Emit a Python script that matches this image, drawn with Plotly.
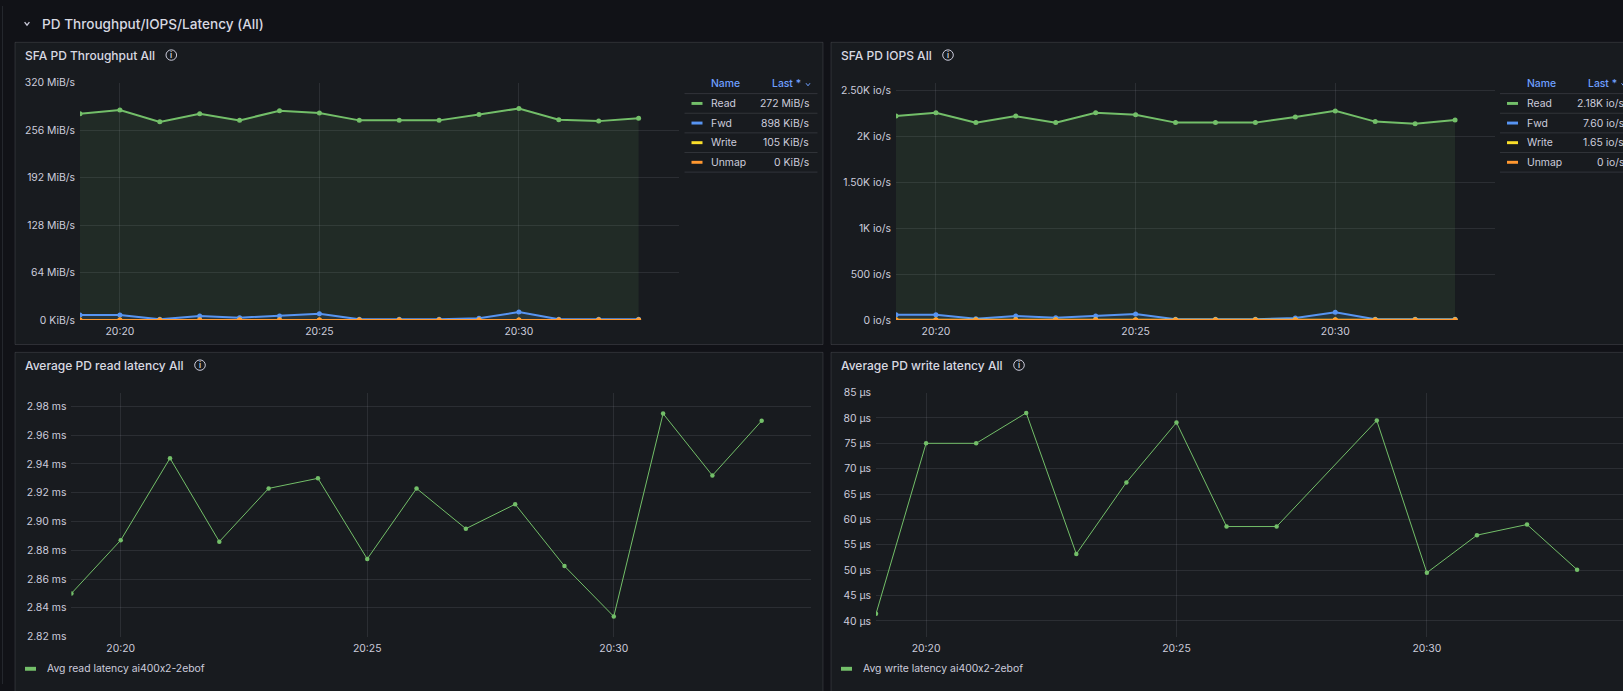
import pandas as pd
import plotly.graph_objects as go

W, H = 1623, 691
day = "2024-06-10"

times = ["20:19", "20:20", "20:21", "20:22", "20:23", "20:24", "20:25", "20:26",
         "20:27", "20:28", "20:29", "20:30", "20:31", "20:32", "20:33"]
tick_times = ["20:20", "20:25", "20:30"]

series_names = ["Read", "Fwd", "Write", "Unmap"]
series_colors = ["#73bf69", "#5794f2", "#fade2a", "#ff9830"]

# SFA PD Throughput All (MiB/s)
tp_read = [278, 283, 267, 278, 269, 282, 279, 269, 269, 269, 277, 285, 270, 268, 272]
tp_fwd = [6.6, 6.6, 0.9, 5.3, 3.1, 5.3, 8.5, 0.9, 0.9, 0.9, 2.2, 10.6, 0.9, 0.9, 0.88]
tp_write = [0.10, 0.10, 0.10, 0.10, 0.10, 0.10, 0.10, 0.10, 0.10, 0.10, 0.10, 0.10, 0.10, 0.10, 0.10]
tp_unmap = [0, 0, 0, 0, 0, 0, 0, 0, 0, 0, 0, 0, 0, 0, 0]
tp_last = ["272 MiB/s", "898 KiB/s", "105 KiB/s", "0 KiB/s"]
tp_yticks = [0, 64, 128, 192, 256, 320]
tp_yticktext = ["0 KiB/s", "64 MiB/s", "128 MiB/s", "192 MiB/s", "256 MiB/s", "320 MiB/s"]

# SFA PD IOPS All (io/s)
io_read = [2222, 2258, 2151, 2222, 2151, 2258, 2236, 2151, 2151, 2151, 2212, 2279, 2162, 2140, 2180]
io_fwd = [58, 58, 14, 43, 25, 43, 64, 7.6, 7.6, 7.6, 21, 85, 7.6, 7.6, 7.6]
io_write = [1.65, 1.65, 1.65, 1.65, 1.65, 1.65, 1.65, 1.65, 1.65, 1.65, 1.65, 1.65, 1.65, 1.65, 1.65]
io_unmap = [0, 0, 0, 0, 0, 0, 0, 0, 0, 0, 0, 0, 0, 0, 0]
io_last = ["2.18K io/s", "7.60 io/s", "1.65 io/s", "0 io/s"]
io_yticks = [0, 500, 1000, 1500, 2000, 2500]
io_yticktext = ["0 io/s", "500 io/s", "1K io/s", "1.50K io/s", "2K io/s", "2.50K io/s"]

# Average PD read latency All (ms)
rd_lat = [2.850, 2.887, 2.944, 2.886, 2.923, 2.930, 2.874, 2.923, 2.895, 2.912,
          2.869, 2.834, 2.975, 2.932, 2.970]
rd_name = "Avg read latency ai400x2-2ebof"

# Average PD write latency All (µs)
wr_lat = [41.4, 75.0, 75.0, 81.0, 53.2, 67.3, 79.1, 58.6, 58.6, None,
          79.5, 49.5, 56.9, 59.0, 50.1]
wr_name = "Avg write latency ai400x2-2ebof"

ts = pd.to_datetime([f"{day} {t}" for t in times])
ticks = pd.to_datetime([f"{day} {t}" for t in tick_times])

FONT = "Inter, Roboto, sans-serif"
TXT = "#ccccdc"
GRID = "rgba(204,204,220,0.11)"
BORDER = "rgba(204,204,220,0.14)"
PANEL = "#181b1f"
SMALL = 10.4


def X(p):
    return p / W


def Y(p):
    return 1 - p / H


def no_calt(text):
    # Inter turns "0x2" into "0×2"; split the x into its own run
    return text.replace("0x2", "0<span style='font-family:Roboto'>x</span>2")


fig = go.Figure()
shapes = []
annotations = []


def setup_axes(n, left, right, top, bottom, t_end, yrange, ykw):
    sfx = "" if n == 1 else str(n)
    fig.update_layout({
        f"xaxis{sfx}": dict(
            domain=[X(left), min(X(right), 1)], anchor=f"y{sfx}", type="date",
            range=[ts[0], t_end], tickvals=list(ticks), tickformat="%H:%M",
            showgrid=True, gridcolor=GRID, zeroline=False, showline=False,
            ticks="", ticklabelstandoff=4,
            tickfont=dict(family=FONT, size=SMALL, color=TXT), fixedrange=True),
        f"yaxis{sfx}": dict(
            domain=[Y(bottom), Y(top)], anchor=f"x{sfx}", range=yrange,
            showgrid=True, gridcolor=GRID, zeroline=False, showline=False,
            ticks="", ticklabelstandoff=4,
            tickfont=dict(family=FONT, size=SMALL, color=TXT), **ykw),
    })
    return sfx


def add_line(sfx, y, color, width, size, fill):
    r, g, b = int(color[1:3], 16), int(color[3:5], 16), int(color[5:7], 16)
    fig.add_trace(go.Scatter(
        x=ts, y=y, xaxis=f"x{sfx}", yaxis=f"y{sfx}", mode="lines+markers",
        line=dict(color=color, width=width), marker=dict(color=color, size=size),
        fill="tozeroy" if fill else None, fillcolor=f"rgba({r},{g},{b},0.1)",
        connectgaps=True, showlegend=False, hoverinfo="x+y"))


def panel(x0, y0, x1, y1, title, icon_x):
    shapes.append(dict(type="rect", xref="paper", yref="paper", layer="below",
                       x0=X(x0), x1=X(x1), y0=Y(y1), y1=Y(y0),
                       fillcolor=PANEL, line=dict(color=BORDER, width=1)))
    annotations.append(dict(text=title, x=X(x0 + 8), y=Y(y0 + 13), xref="paper", yref="paper",
                            xanchor="left", yanchor="middle", showarrow=False,
                            font=dict(family=FONT, size=12, color="#d8d9e2", weight=500)))
    cy = y0 + 13
    shapes.append(dict(type="circle", xref="paper", yref="paper",
                       x0=X(icon_x - 5.3), x1=X(icon_x + 5.3), y0=Y(cy + 5.3), y1=Y(cy - 5.3),
                       line=dict(color=TXT, width=1)))
    annotations.append(dict(text="i", x=X(icon_x), y=Y(cy + 0.3), xref="paper", yref="paper",
                            xanchor="center", yanchor="middle", showarrow=False,
                            font=dict(family=FONT, size=8, color=TXT, weight=600)))


def chevron(cx, cy, w, h, color, width=1.3):
    path = f"M {X(cx - w)},{Y(cy - h)} L {X(cx)},{Y(cy + h)} L {X(cx + w)},{Y(cy - h)}"
    shapes.append(dict(type="path", xref="paper", yref="paper", path=path,
                       line=dict(color=color, width=width)))


def legend_table(left, last_vals):
    rows_y = [99.3, 119.3, 139.3, 159.3]
    annotations.append(dict(text="Name", x=X(left + 24.5), y=Y(79.3), xref="paper", yref="paper",
                            xanchor="left", yanchor="middle", showarrow=False,
                            font=dict(family=FONT, size=SMALL, color="#6e9fff", weight=500)))
    annotations.append(dict(text="Last *", x=X(left + 118.5), y=Y(79.3), xref="paper", yref="paper",
                            xanchor="right", yanchor="middle", showarrow=False,
                            font=dict(family=FONT, size=SMALL, color="#6e9fff", weight=500)))
    chevron(left + 123.5, 80, 2.0, 1.3, "#6e9fff", 1)
    for sy in [89.3, 109.3, 129.3, 149.3, 169.3]:
        shapes.append(dict(type="line", xref="paper", yref="paper",
                           x0=X(left), x1=X(left + 133), y0=Y(sy), y1=Y(sy),
                           line=dict(color=BORDER, width=1)))
    for name, color, val, ry in zip(series_names, series_colors, last_vals, rows_y):
        shapes.append(dict(type="rect", xref="paper", yref="paper",
                           x0=X(left + 7), x1=X(left + 18), y0=Y(ry + 1.5), y1=Y(ry - 1.5),
                           fillcolor=color, line=dict(width=0)))
        annotations.append(dict(text=name, x=X(left + 24.5), y=Y(ry), xref="paper", yref="paper",
                                xanchor="left", yanchor="middle", showarrow=False,
                                font=dict(family=FONT, size=SMALL, color=TXT)))
        annotations.append(dict(text=val, x=X(left + 126), y=Y(ry), xref="paper", yref="paper",
                                xanchor="right", yanchor="middle", showarrow=False,
                                font=dict(family=FONT, size=SMALL, color=TXT)))


def bottom_legend(left, name, color):
    shapes.append(dict(type="rect", xref="paper", yref="paper",
                       x0=X(left + 10), x1=X(left + 21), y0=Y(677.5), y1=Y(673.5),
                       fillcolor=color, line=dict(width=0)))
    annotations.append(dict(text=no_calt(name), x=X(left + 29.5), y=Y(675.7),
                            xref="paper", yref="paper", xanchor="left", yanchor="middle",
                            showarrow=False, font=dict(family=FONT, size=SMALL, color=TXT)))


# page chrome
shapes.append(dict(type="line", xref="paper", yref="paper", x0=X(2.5), x1=X(2.5), y0=0, y1=1,
                   line=dict(color="#24272d", width=1)))
annotations.append(dict(text="PD Throughput/IOPS/Latency (All)", x=X(39.5), y=Y(18),
                        xref="paper", yref="paper", xanchor="left", yanchor="middle",
                        showarrow=False, font=dict(family=FONT, size=13.6, color="#d8d9e2", weight=500)))
chevron(27, 18, 2.4, 1.5, TXT)

panel(15, 37, 823, 345, "SFA PD Throughput All", 171.3)
panel(831, 37, 1660, 345, "SFA PD IOPS All", 948)
panel(15, 353, 823, 720, "Average PD read latency All", 200)
panel(831, 353, 1660, 720, "Average PD write latency All", 1019)

# throughput
s = setup_axes(1, 80, 678.5, 78, 320, f"{day} 20:34", [0, 320],
               dict(tickvals=tp_yticks, ticktext=tp_yticktext))
for vals, color in zip([tp_read, tp_fwd, tp_write, tp_unmap], series_colors):
    add_line(s, vals, color, 2, 5, True)
legend_table(684.5, tp_last)

# IOPS
s = setup_axes(2, 896, 1495, 78, 320, f"{day} 20:34", [0, 2588],
               dict(tickvals=io_yticks, ticktext=io_yticktext))
for vals, color in zip([io_read, io_fwd, io_write, io_unmap], series_colors):
    add_line(s, vals, color, 2, 5, True)
legend_table(1500, io_last)

# read latency
s = setup_axes(3, 71.4, 811, 394, 642.7, f"{day} 20:34", [2.82, 2.9896],
               dict(tickformat=".2f", ticksuffix=" ms", dtick=0.02, tick0=2.82))
add_line(s, rd_lat, series_colors[0], 1, 4.5, False)
bottom_legend(15, rd_name, series_colors[0])

# write latency
s = setup_axes(4, 876, 1623, 394, 643, f"{day} 20:33:55", [36.85, 85],
               dict(dtick=5, tick0=40, ticksuffix=" µs"))
add_line(s, wr_lat, series_colors[0], 1, 4.5, False)
bottom_legend(831, wr_name, series_colors[0])

fig.update_layout(
    width=W, height=H, autosize=False,
    margin=dict(l=0, r=0, t=0, b=0),
    paper_bgcolor="#111217", plot_bgcolor="rgba(0,0,0,0)",
    shapes=shapes, annotations=annotations, showlegend=False,
    font=dict(family=FONT, color=TXT),
)

fig.write_html(
    "out.html",
    config={"displayModeBar": False, "responsive": False},
    post_script=(
        "document.documentElement.style.margin='0';"
        "document.documentElement.style.overflow='hidden';"
        "document.body.style.margin='0';document.body.style.overflow='hidden';"
        "document.body.style.background='#111217';"
        "var gd=document.getElementById('{plot_id}');"
        "gd.style.position='fixed';gd.style.top='0';gd.style.left='0';"
    ),
)
